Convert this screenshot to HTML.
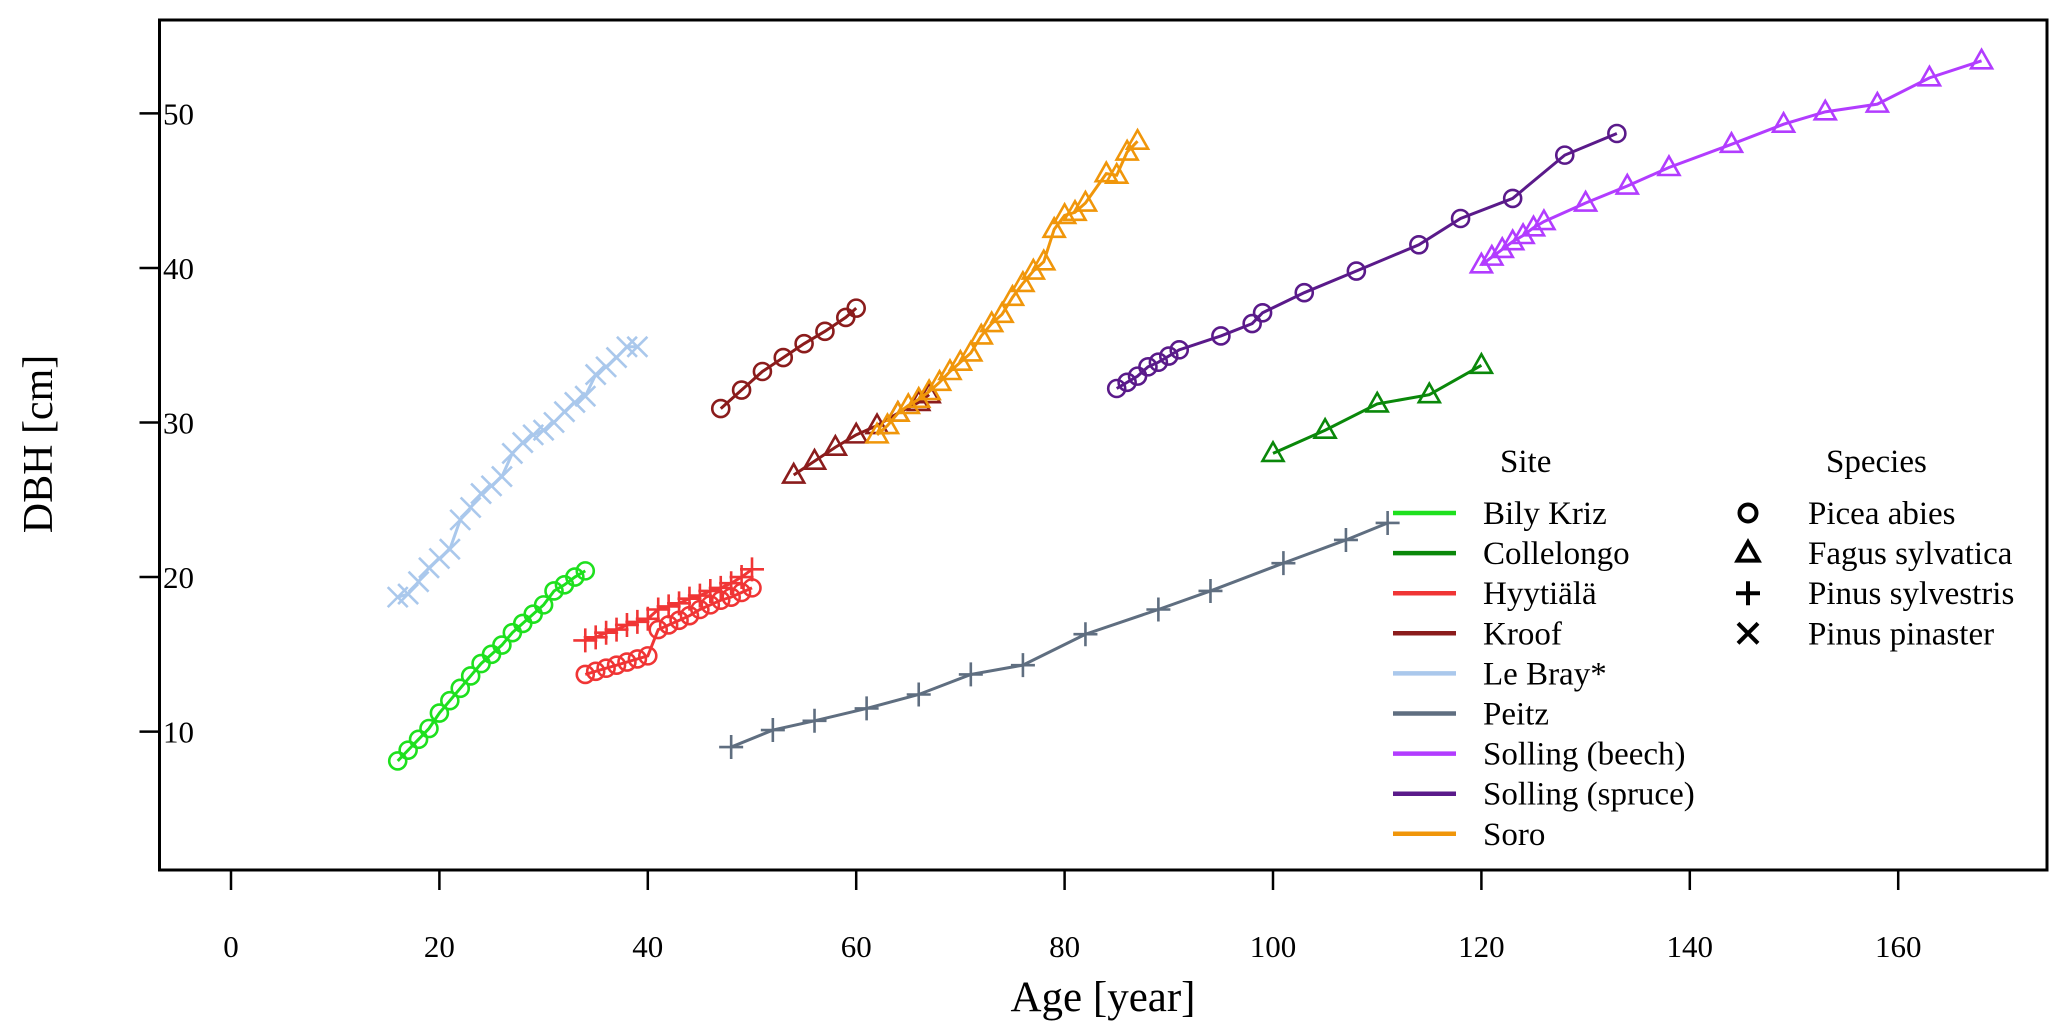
<!DOCTYPE html>
<html><head><meta charset="utf-8"><style>
html,body{margin:0;padding:0;background:#fff;}
svg{display:block;font-family:"Liberation Serif",serif;}
</style></head><body>
<svg id="chart" width="2067" height="1036" viewBox="0 0 2067 1036" xmlns="http://www.w3.org/2000/svg">
<rect x="0" y="0" width="2067" height="1036" fill="#fff"/>
<g id="axes"></g><g id="series"></g><g id="legend"></g>
</svg>
<script>
const xTicks=[0,20,40,60,80,100,120,140,160];
const yTicks=[10,20,30,40,50];
const siteNames=["Bily Kriz","Collelongo","Hyytiälä","Kroof","Le Bray*","Peitz","Solling (beech)","Solling (spruce)","Soro"];
const siteColors=["#1ee01e","#0a880a","#f03535","#8b1c1c","#aac8ec","#5f6e80","#b23cff","#5a1a8a","#f0960a"];
const speciesNames=["Picea abies","Fagus sylvatica","Pinus sylvestris","Pinus pinaster"];
const speciesMarkers=["circle","triangle","plus","cross"];
const bkAge=[16,17,18,19,20,21,22,23,24,25,26,27,28,29,30,31,32,33,34];
const bkVal=[8.1,8.8,9.5,10.2,11.2,12.0,12.8,13.6,14.4,15.0,15.6,16.4,17.0,17.6,18.2,19.1,19.5,20.0,20.4];
const lbAge=[16,17,18,19,20,21,22,23,24,25,26,27,28,29,30,31,32,33,34,35,36,37,38,39];
const lbVal=[18.7,18.9,19.7,20.6,21.2,21.8,23.7,24.5,25.4,25.9,26.5,28.0,28.7,29.2,29.5,30.0,30.7,31.3,31.7,33.1,33.6,34.2,34.9,34.9];
const hyAge=[34,35,36,37,38,39,40,41,42,43,44,45,46,47,48,49,50];
const hyCircVal=[13.7,13.9,14.1,14.3,14.5,14.7,14.9,16.6,16.9,17.2,17.5,17.9,18.2,18.5,18.7,19.0,19.3];
const hyPlusVal=[15.9,16.1,16.4,16.6,16.9,17.1,17.3,17.9,18.1,18.3,18.6,18.8,19.1,19.3,19.6,20.0,20.5];
const krCircAge=[47,49,51,53,55,57,59,60];
const krCircVal=[30.9,32.1,33.3,34.2,35.1,35.9,36.8,37.4];
const krTriAge=[54,56,58,60,62,64,66,67];
const krTriVal=[26.6,27.5,28.4,29.2,29.8,30.6,31.3,31.8];
const soAge=[62,63,64,65,66,67,68,69,70,71,72,73,74,75,76,77,78,79,80,81,82,84,85,86,87];
const soVal=[29.2,29.8,30.6,31.1,31.5,32.0,32.6,33.3,33.9,34.5,35.6,36.4,37.0,38.1,39.0,39.8,40.4,42.5,43.4,43.6,44.2,46.1,46.0,47.5,48.2];
const coAge=[100,105,110,115,120];
const coVal=[28.0,29.5,31.2,31.8,33.7];
const peAge=[48,52,56,61,66,71,76,82,89,94,101,107,111];
const peVal=[9.0,10.1,10.7,11.5,12.4,13.7,14.3,16.3,17.9,19.1,20.9,22.4,23.5];
const ssAge=[85,86,87,88,89,90,91,95,98,99,103,108,114,118,123,128,133];
const ssVal=[32.2,32.6,33.0,33.6,33.9,34.3,34.7,35.6,36.4,37.1,38.4,39.8,41.5,43.2,44.5,47.3,48.7];
const sbAge=[120,121,122,123,124,125,126,130,134,138,144,149,153,158,163,168];
const sbVal=[40.2,40.7,41.2,41.7,42.1,42.6,43.0,44.2,45.3,46.5,48.0,49.3,50.1,50.6,52.3,53.4];

const seriesList=[
 ["bily-kriz",0,"circle",bkAge,bkVal],
 ["le-bray",4,"cross",lbAge,lbVal],
 ["hyytiala-spruce",2,"circle",hyAge,hyCircVal],
 ["hyytiala-pine",2,"plus",hyAge,hyPlusVal],
 ["kroof-spruce",3,"circle",krCircAge,krCircVal],
 ["kroof-beech",3,"triangle",krTriAge,krTriVal],
 ["soro",8,"triangle",soAge,soVal],
 ["collelongo",1,"triangle",coAge,coVal],
 ["peitz",5,"plus",peAge,peVal],
 ["solling-spruce",7,"circle",ssAge,ssVal],
 ["solling-beech",6,"triangle",sbAge,sbVal]
];

const NS="http://www.w3.org/2000/svg";
const PL=159.5,PR=2047,PT=20,PB=870;
function xs(a){return 231+a*10.42;}
function ys(v){return 113.4+(50-v)*15.455;}
function mk(tag,attrs,parent){const e=document.createElementNS(NS,tag);for(const k in attrs)e.setAttribute(k,attrs[k]);parent.appendChild(e);return e;}
const axes=document.getElementById('axes');
const fr=mk('rect',{x:PL,y:PT,width:PR-PL,height:PB-PT,fill:'none',stroke:'#000','stroke-width':3},axes);


xTicks.forEach(t=>{
 const l=mk('line',{x1:xs(t),x2:xs(t),y1:PB,y2:PB+20,stroke:'#000','stroke-width':2.5},axes);
 
 
 const tx=mk('text',{x:xs(t),y:957,'text-anchor':'middle','font-size':31},axes);tx.textContent=t;
 
 
});
yTicks.forEach(t=>{
 const l=mk('line',{x1:PL-20,x2:PL,y1:ys(t),y2:ys(t),stroke:'#000','stroke-width':2.5},axes);
 
 
 const tx=mk('text',{x:194,y:ys(t)+11,'text-anchor':'end','font-size':31},axes);tx.textContent=t;
 
 
});
const xt=mk('text',{x:1103,y:1011,'text-anchor':'middle','font-size':43},axes);xt.textContent='Age [year]';


const yt=mk('text',{x:0,y:0,'text-anchor':'middle','font-size':42,transform:'translate(52,444) rotate(-90)'},axes);yt.textContent='DBH [cm]';



function marker(type,x,y,color,parent,lw){
 let e;
 if(type==='circle')e=mk('circle',{cx:x,cy:y,r:8.5,fill:'none',stroke:color,'stroke-width':lw},parent);
 else if(type==='triangle')e=mk('path',{d:`M${x} ${y-11}L${x+10.5} ${y+7.5}L${x-10.5} ${y+7.5}Z`,fill:'none',stroke:color,'stroke-width':lw},parent);
 else if(type==='plus')e=mk('path',{d:`M${x-12} ${y}H${x+12}M${x} ${y-12}V${y+12}`,fill:'none',stroke:color,'stroke-width':lw},parent);
 else e=mk('path',{d:`M${x-10} ${y-10}L${x+10} ${y+10}M${x-10} ${y+10}L${x+10} ${y-10}`,fill:'none',stroke:color,'stroke-width':lw},parent);
 return e;
}
const sg=document.getElementById('series');
seriesList.forEach(s=>{
 const [name,ci,m,ages,vals]=s;const col=siteColors[ci];
 const g=mk('g',{},sg);
 
 
 const pts=ages.map((a,i)=>xs(a)+','+ys(vals[i])).join(' ');
 const pl=mk('polyline',{points:pts,fill:'none',stroke:col,'stroke-width':3},g);
 
 
 ages.forEach((a,i)=>{
  const e=marker(m,xs(a),ys(vals[i]),col,g,2.6);
  
  
 });
});
const lg=document.getElementById('legend');
const h1=mk('text',{x:1500,y:472,'font-size':33},lg);h1.textContent='Site';


const h2=mk('text',{x:1826,y:472,'font-size':33},lg);h2.textContent='Species';


siteNames.forEach((n,i)=>{
 const y=513+40.1*i;
 const l=mk('line',{x1:1393,x2:1456,y1:y,y2:y,stroke:siteColors[i],'stroke-width':4.5},lg);
 
 
 const t=mk('text',{x:1483,y:y+11,'font-size':33},lg);t.textContent=n;
 
 
});
speciesNames.forEach((n,i)=>{
 const y=513+40.1*i;
 const e=marker(speciesMarkers[i],1748,y,'#000',lg,4);
 
 
 const t=mk('text',{x:1808,y:y+11,'font-size':33},lg);t.textContent=n;
 
 
});
</script>
</body></html>
